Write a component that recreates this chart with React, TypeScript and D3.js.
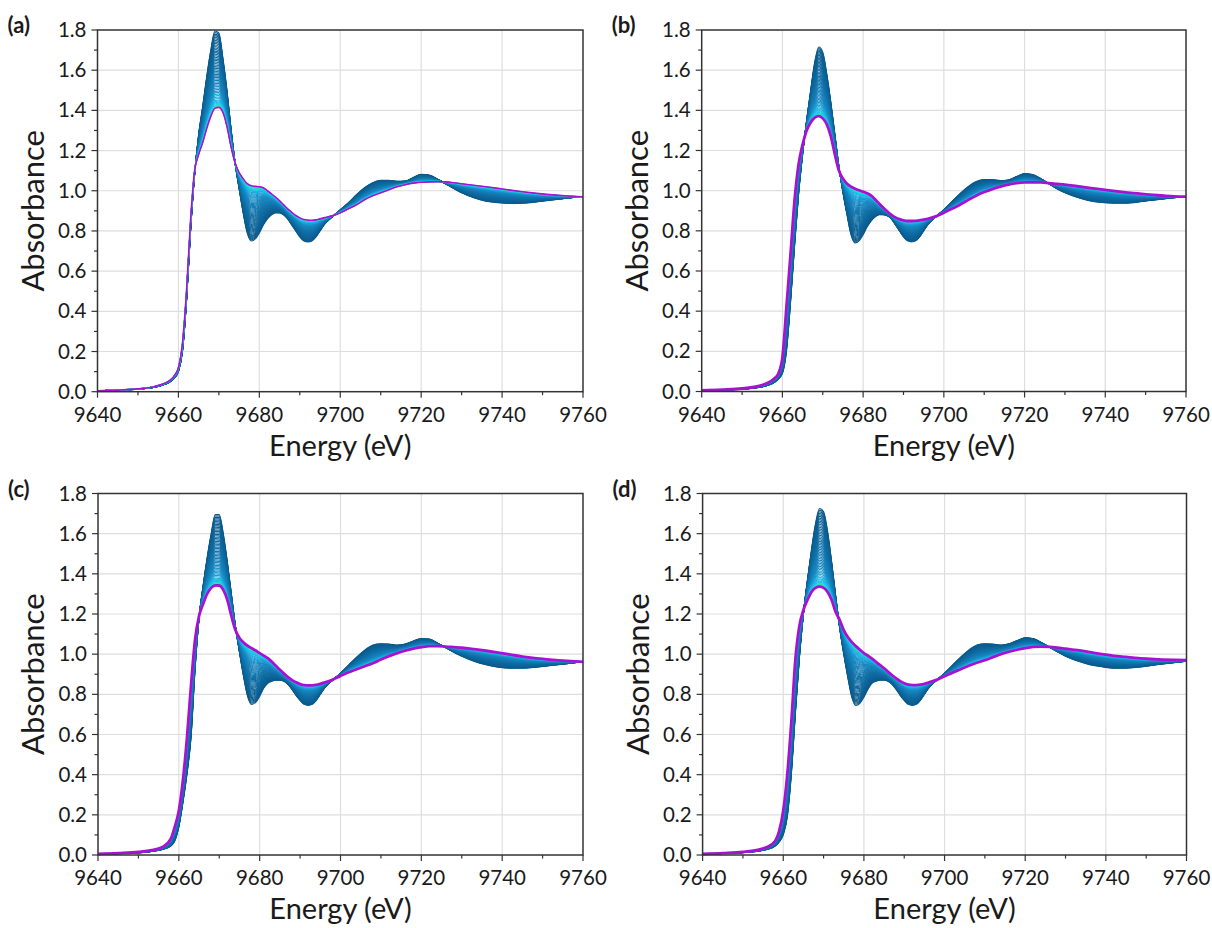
import React from "react";
import * as d3 from "d3";

// ---------- DATA ----------
const ENERGY = [
  9640, 9645, 9650, 9654, 9656, 9658, 9659, 9660, 9661, 9662,
  9663, 9664, 9665, 9666, 9667, 9668, 9669, 9670, 9671, 9672,
  9673, 9674, 9675, 9676, 9677, 9678, 9679, 9680, 9681, 9682,
  9683, 9684, 9685, 9686, 9687, 9688, 9689, 9690, 9691, 9692,
  9693, 9694, 9695, 9696, 9698, 9700, 9702, 9704, 9706, 9708,
  9710, 9712, 9714, 9716, 9718, 9720, 9722, 9724, 9726, 9728,
  9730, 9733, 9736, 9739, 9742, 9745, 9748, 9751, 9754, 9757,
  9760,
];

const INITIAL_A = [
  0.005, 0.008, 0.013, 0.022, 0.032, 0.05, 0.068, 0.10, 0.20, 0.45,
  0.80, 1.08, 1.28, 1.42, 1.57, 1.70, 1.795, 1.785, 1.66, 1.50,
  1.31, 1.14, 1.01, 0.89, 0.79, 0.75, 0.76, 0.79, 0.83, 0.86,
  0.88, 0.89, 0.89, 0.88, 0.86, 0.83, 0.80, 0.77, 0.75, 0.745,
  0.75, 0.77, 0.80, 0.83, 0.87, 0.905, 0.94, 0.98, 1.015, 1.04,
  1.052, 1.052, 1.047, 1.048, 1.065, 1.082, 1.078, 1.058, 1.035, 1.012,
  0.99, 0.965, 0.948, 0.94, 0.937, 0.938, 0.943, 0.951, 0.958, 0.965,
  0.97,
];
const FINAL_A = [
  0.005, 0.008, 0.014, 0.025, 0.037, 0.058, 0.08, 0.12, 0.24, 0.50,
  0.85, 1.10, 1.18, 1.24, 1.31, 1.37, 1.41, 1.415, 1.39, 1.32,
  1.22, 1.14, 1.09, 1.06, 1.035, 1.025, 1.022, 1.02, 1.015, 1.0,
  0.985, 0.968, 0.95, 0.93, 0.91, 0.893, 0.877, 0.865, 0.857, 0.854,
  0.853, 0.855, 0.86, 0.865, 0.875, 0.89, 0.91, 0.93, 0.955, 0.975,
  0.99, 1.005, 1.02, 1.03, 1.038, 1.042, 1.044, 1.045, 1.044, 1.04,
  1.035, 1.027, 1.02, 1.012, 1.003, 0.995, 0.988, 0.982, 0.977, 0.973,
  0.97,
];

const INITIAL_B = [
  0.005, 0.008, 0.012, 0.02, 0.028, 0.045, 0.062, 0.09, 0.20, 0.44,
  0.72, 0.98, 1.18, 1.35, 1.50, 1.64, 1.715, 1.69, 1.58, 1.44,
  1.28, 1.12, 0.99, 0.88, 0.78, 0.74, 0.75, 0.78, 0.82, 0.85,
  0.87, 0.88, 0.88, 0.875, 0.86, 0.83, 0.80, 0.77, 0.75, 0.745,
  0.75, 0.77, 0.80, 0.83, 0.87, 0.905, 0.945, 0.985, 1.02, 1.045,
  1.055, 1.055, 1.05, 1.053, 1.07, 1.085, 1.08, 1.06, 1.035, 1.01,
  0.99, 0.967, 0.95, 0.941, 0.937, 0.938, 0.943, 0.951, 0.958, 0.965,
  0.97,
];
const FINAL_B = [
  0.005, 0.009, 0.015, 0.027, 0.04, 0.065, 0.09, 0.17, 0.42, 0.68,
  0.95, 1.13, 1.23, 1.30, 1.34, 1.364, 1.371, 1.36, 1.33, 1.27,
  1.18, 1.10, 1.06, 1.035, 1.02, 1.01, 1.002, 0.995, 0.987, 0.975,
  0.956, 0.935, 0.915, 0.896, 0.88, 0.867, 0.858, 0.852, 0.849, 0.849,
  0.85, 0.852, 0.856, 0.86, 0.872, 0.89, 0.91, 0.93, 0.953, 0.975,
  0.993, 1.008, 1.02, 1.03, 1.037, 1.041, 1.042, 1.041, 1.038, 1.034,
  1.03, 1.022, 1.014, 1.006, 0.999, 0.992, 0.986, 0.98, 0.976, 0.972,
  0.97,
];

const INITIAL_C = [
  0.004, 0.007, 0.011, 0.02, 0.028, 0.045, 0.07, 0.14, 0.26, 0.40,
  0.58, 0.92, 1.18, 1.34, 1.48, 1.60, 1.695, 1.695, 1.60, 1.46,
  1.30, 1.14, 1.01, 0.89, 0.79, 0.75, 0.76, 0.79, 0.83, 0.855,
  0.865, 0.87, 0.87, 0.865, 0.85, 0.825, 0.795, 0.77, 0.75, 0.745,
  0.75, 0.77, 0.80, 0.83, 0.87, 0.905, 0.945, 0.985, 1.02, 1.045,
  1.052, 1.05, 1.045, 1.05, 1.065, 1.078, 1.075, 1.055, 1.033, 1.01,
  0.99, 0.965, 0.947, 0.935, 0.93, 0.93, 0.934, 0.941, 0.948, 0.955,
  0.962,
];
const FINAL_C = [
  0.005, 0.009, 0.015, 0.027, 0.04, 0.08, 0.14, 0.22, 0.37, 0.58,
  0.84, 1.07, 1.19, 1.25, 1.30, 1.33, 1.343, 1.342, 1.32, 1.27,
  1.19, 1.12, 1.08, 1.058, 1.042, 1.03, 1.018, 1.005, 0.993, 0.98,
  0.962, 0.942, 0.922, 0.903, 0.886, 0.871, 0.86, 0.851, 0.846, 0.845,
  0.845, 0.847, 0.852, 0.858, 0.873, 0.892, 0.91, 0.925, 0.94, 0.955,
  0.973, 0.99, 1.005, 1.018, 1.028, 1.035, 1.04, 1.04, 1.038, 1.035,
  1.032, 1.025, 1.017, 1.008, 0.998, 0.988, 0.98, 0.974, 0.969, 0.965,
  0.962,
];

const INITIAL_D = [
  0.005, 0.008, 0.012, 0.02, 0.028, 0.045, 0.065, 0.10, 0.19, 0.40,
  0.70, 0.98, 1.20, 1.37, 1.52, 1.65, 1.725, 1.71, 1.61, 1.46,
  1.29, 1.13, 1.00, 0.885, 0.785, 0.745, 0.755, 0.785, 0.825, 0.855,
  0.865, 0.87, 0.87, 0.865, 0.85, 0.825, 0.795, 0.77, 0.75, 0.745,
  0.75, 0.77, 0.80, 0.83, 0.87, 0.905, 0.945, 0.985, 1.02, 1.045,
  1.052, 1.05, 1.045, 1.052, 1.068, 1.082, 1.078, 1.058, 1.035, 1.012,
  0.99, 0.966, 0.948, 0.937, 0.93, 0.93, 0.935, 0.943, 0.951, 0.958,
  0.965,
];
const FINAL_D = [
  0.005, 0.009, 0.015, 0.027, 0.04, 0.07, 0.12, 0.22, 0.40, 0.66,
  0.97, 1.14, 1.22, 1.27, 1.31, 1.33, 1.336, 1.33, 1.31, 1.27,
  1.21, 1.17, 1.12, 1.085, 1.06, 1.04, 1.022, 1.005, 0.992, 0.978,
  0.962, 0.945, 0.93, 0.912, 0.895, 0.88, 0.866, 0.855, 0.848, 0.846,
  0.846, 0.848, 0.852, 0.858, 0.872, 0.89, 0.908, 0.925, 0.942, 0.957,
  0.97, 0.985, 1.0, 1.012, 1.022, 1.03, 1.036, 1.038, 1.036, 1.032,
  1.027, 1.02, 1.01, 1.0, 0.992, 0.986, 0.98, 0.976, 0.973, 0.971,
  0.97,
];

// fraction of the final species in each recorded spectrum of the series
const MIX_FRACTIONS = [
  0, 0.02, 0.04, 0.06, 0.08, 0.10, 0.12, 0.14, 0.16, 0.18,
  0.20, 0.22, 0.24, 0.26, 0.28, 0.30, 0.32, 0.34, 0.36, 0.38,
  0.40, 0.42, 0.44, 0.46, 0.48, 0.50, 0.52, 0.54, 0.56, 0.58,
  0.60, 0.62, 0.64, 0.66, 0.68, 0.70, 0.72, 0.74, 0.76, 0.78,
  0.80, 0.82, 0.84, 0.86, 0.88, 0.90, 0.915, 0.93, 0.945, 0.96,
  0.97, 0.98, 0.99,
];

const X_DOMAIN = [9640, 9760];
const Y_DOMAIN = [0, 1.8];

const PANELS = [
  { label: "(a)", left: 97.5, top: 30, right: 583, bottom: 391.7, init: INITIAL_A, fin: FINAL_A, finWidth: 1.6 },
  { label: "(b)", left: 701.7, top: 30, right: 1186, bottom: 391.5, init: INITIAL_B, fin: FINAL_B, finWidth: 2.8 },
  { label: "(c)", left: 98, top: 493.5, right: 583, bottom: 855, init: INITIAL_C, fin: FINAL_C, finWidth: 2.8 },
  { label: "(d)", left: 702.6, top: 493.5, right: 1186.5, bottom: 855, init: INITIAL_D, fin: FINAL_D, finWidth: 2.8 },
];

const FONT = "Lato, 'Open Sans', sans-serif";

const seriesColor = d3
  .scaleLinear<string>()
  .domain([0, 0.45, 0.75, 0.87, 0.94, 1])
  .range(["#0a5889", "#106fa6", "#1787c2", "#19a6dc", "#17c6e8", "#3ee6b6"])
  .interpolate(d3.interpolateRgb);

function Panel({ p }: { p: (typeof PANELS)[number] }) {
  const x = d3.scaleLinear().domain(X_DOMAIN).range([p.left, p.right]);
  const y = d3.scaleLinear().domain(Y_DOMAIN).range([p.bottom, p.top]);
  const line = d3
    .line<number>()
    .x((_, i) => x(ENERGY[i]))
    .y((v) => y(v))
    .curve(d3.curveMonotoneX);

  const xMajor = d3.range(X_DOMAIN[0], X_DOMAIN[1] + 0.1, 20);
  const xMinor = d3.range(X_DOMAIN[0] + 10, X_DOMAIN[1], 20);
  const yMajor = d3.range(0, 1.81, 0.2);
  const yMinor = d3.range(0.1, 1.8, 0.2);
  const axisColor = "#333333";
  const clipId = "clip-" + p.label.replace(/[()]/g, "");

  return (
    <g>
      <clipPath id={clipId}>
        <rect x={p.left} y={p.top - 1} width={p.right - p.left} height={p.bottom - p.top + 2} />
      </clipPath>
      {/* grid */}
      {xMajor.slice(1, -1).map((v) => (
        <line key={"gx" + v} x1={x(v)} x2={x(v)} y1={p.top} y2={p.bottom} stroke="#dedede" strokeWidth={1.2} />
      ))}
      {yMajor.slice(1, -1).map((v) => (
        <line key={"gy" + v} x1={p.left} x2={p.right} y1={y(v)} y2={y(v)} stroke="#dedede" strokeWidth={1.2} />
      ))}
      {/* series */}
      <g clipPath={`url(#${clipId})`}>
        {MIX_FRACTIONS.map((f, k) => {
          const vals = p.init.map((a, i) => a * (1 - f) + p.fin[i] * f);
          return (
            <path key={"s" + k} d={line(vals) || ""} fill="none" stroke={seriesColor(f)} strokeWidth={1.1} />
          );
        })}
        <path d={line(p.fin) || ""} fill="none" stroke="#a512d2" strokeWidth={p.finWidth} />
      </g>
      {/* frame */}
      <rect x={p.left} y={p.top} width={p.right - p.left} height={p.bottom - p.top} fill="none" stroke={axisColor} strokeWidth={1.5} />
      {/* x ticks */}
      {xMajor.map((v) => (
        <g key={"xt" + v}>
          <line x1={x(v)} x2={x(v)} y1={p.bottom} y2={p.bottom + 6} stroke={axisColor} strokeWidth={1.2} />
          <text x={x(v)} y={p.bottom + 30} textAnchor="middle" fontSize={20.5} fontFamily={FONT} fill="#1a1a1a">
            {d3.format("d")(v)}
          </text>
        </g>
      ))}
      {xMinor.map((v) => (
        <line key={"xm" + v} x1={x(v)} x2={x(v)} y1={p.bottom} y2={p.bottom + 3.5} stroke={axisColor} strokeWidth={1.2} />
      ))}
      {/* y ticks */}
      {yMajor.map((v) => (
        <g key={"yt" + v.toFixed(1)}>
          <line x1={p.left - 6} x2={p.left} y1={y(v)} y2={y(v)} stroke={axisColor} strokeWidth={1.2} />
          <text x={p.left - 11} y={y(v) + 7} textAnchor="end" fontSize={20.5} fontFamily={FONT} fill="#1a1a1a">
            {d3.format(".1f")(v)}
          </text>
        </g>
      ))}
      {yMinor.map((v) => (
        <line key={"ym" + v.toFixed(1)} x1={p.left - 3.5} x2={p.left} y1={y(v)} y2={y(v)} stroke={axisColor} strokeWidth={1.2} />
      ))}
      {/* titles */}
      <text x={(p.left + p.right) / 2} y={p.bottom + 64} textAnchor="middle" fontSize={29} fontFamily={FONT} fill="#1a1a1a">
        Energy (eV)
      </text>
      <text
        transform={`translate(${p.left - 54},${(p.top + p.bottom) / 2}) rotate(-90)`}
        textAnchor="middle"
        fontSize={31}
        fontFamily={FONT}
        fill="#1a1a1a"
      >
        Absorbance
      </text>
      <text x={p.left - 90} y={p.top + 3} fontSize={22} fontWeight="bold" fontFamily={FONT} fill="#1a1a1a">
        {p.label}
      </text>
    </g>
  );
}

export default function App() {
  return (
    <svg
      width={1212}
      height={928}
      style={{ position: "absolute", left: 0, top: 0, background: "#ffffff" }}
    >
      <rect x={0} y={0} width={1212} height={928} fill="#ffffff" />
      {PANELS.map((p) => (
        <Panel key={p.label} p={p} />
      ))}
    </svg>
  );
}
